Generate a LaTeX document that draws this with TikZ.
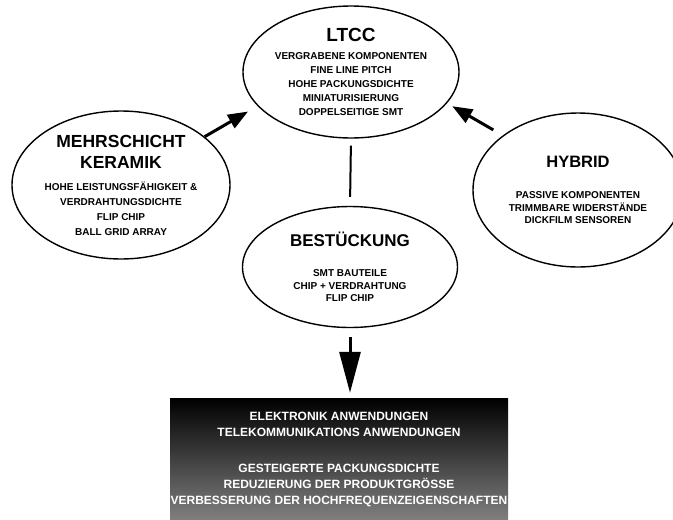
\documentclass[tikz,border=0pt]{standalone}
\usepackage{fontspec}
\setmainfont{Liberation Sans}
\usetikzlibrary{shapes,arrows.meta}

\begin{document}
\begin{tikzpicture}[x=1pt,y=-1pt,
ovalnode/.style={ellipse, draw=black, line width=1.4pt, align=center, inner sep=0pt, font=\bfseries\fontsize{10}{#1}\selectfont},
ovalnode/.default=14,
darkbox/.style={rectangle, top color=black, middle color=black!92, bottom color=black!50, text=white, align=center, inner sep=0pt, minimum width=338pt, minimum height=122pt, font=\bfseries\fontsize{12}{16}\selectfont},
pfeil/.style={-{Triangle[length=20pt,width=15pt]}, line width=3pt},
fat pfeil/.style={-{Triangle[length=41pt,width=21pt]}, line width=3pt}
]
\useasboundingbox (0,0) rectangle (673,520);

%Nodes
\node[ovalnode=14, minimum width=216pt, minimum height=132pt] at (351,72) (LTCC)
  {{\fontsize{19}{19}\selectfont LTCC}\\[4.5pt]
   VERGRABENE KOMPONENTEN\\
   FINE LINE PITCH\\
   HOHE PACKUNGSDICHTE\\
   MINIATURISIERUNG\\
   DOPPELSEITIGE SMT};

\node[ovalnode=15, minimum width=218pt, minimum height=148pt] at (121,185) (MEHR)
  {{\fontsize{17.5}{17.5}\selectfont MEHRSCHICHT}\\[6pt]
   {\fontsize{17.5}{17.5}\selectfont KERAMIK}\\[7pt]
   HOHE LEISTUNGSFÄHIGKEIT \&\\
   VERDRAHTUNGSDICHTE\\
   FLIP CHIP\\
   BALL GRID ARRAY};

\node[ovalnode=12.5, minimum width=210pt, minimum height=154pt] at (578,190) (HYBRID)
  {{\fontsize{16.5}{16.5}\selectfont HYBRID}\\[19pt]
   PASSIVE KOMPONENTEN\\
   TRIMMBARE WIDERSTÄNDE\\
   DICKFILM SENSOREN};

\node[ovalnode=12.5, minimum width=215pt, minimum height=121pt] at (350,267) (BEST)
  {{\fontsize{17}{17}\selectfont BESTÜCKUNG}\\[18pt]
   SMT BAUTEILE\\
   CHIP + VERDRAHTUNG\\
   FLIP CHIP};

\node[darkbox] at (339,459) (ANW)
  {ELEKTRONIK ANWENDUNGEN\\
   TELEKOMMUNIKATIONS ANWENDUNGEN\\[20pt]
   GESTEIGERTE PACKUNGSDICHTE\\
   REDUZIERUNG DER PRODUKTGRÖSSE\\
   VERBESSERUNG DER HOCHFREQUENZEIGENSCHAFTEN};

%Lines
\draw[pfeil, shorten >=11pt] (MEHR.30) -- (LTCC.200);
\draw[pfeil, shorten <=11pt, shorten >=6pt] (HYBRID.144) -- (LTCC.-18);
\draw[line width=2pt, shorten <=7pt, shorten >=9pt] (LTCC.south) -- (BEST.north);
\draw[fat pfeil, shorten <=9pt, shorten >=5pt] (BEST.south) -- (BEST.south |- ANW.north);
\end{tikzpicture}
\end{document}
